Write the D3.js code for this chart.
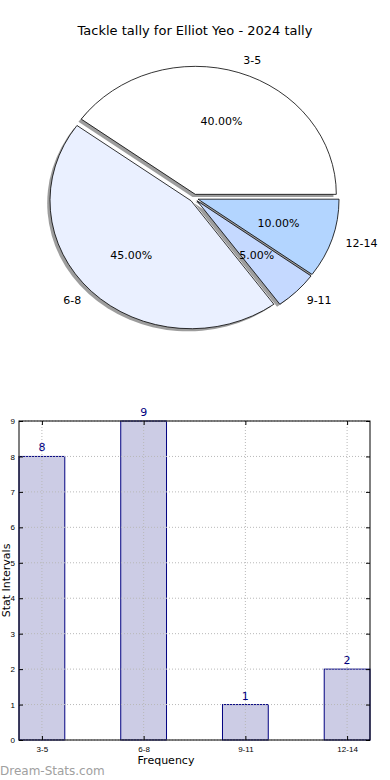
<!DOCTYPE html>
<html>
<head>
<meta charset="utf-8">
<script src="https://cdn.jsdelivr.net/npm/d3@7"></script>
<style>
  body { margin: 0; background: #fff; }
  svg { display: block; font-family: "DejaVu Sans", sans-serif; }
</style>
</head>
<body>
<div id="chart"></div>
<script>
// data
const categories = ['3-5', '6-8', '9-11', '12-14'];
const counts = [8, 9, 1, 2];
const percents = [40, 45, 5, 10];
const sliceColors = ['#ffffff', '#eaf0ff', '#c5d9ff', '#b3d5ff'];
const yTicks = [0, 1, 2, 3, 4, 5, 6, 7, 8, 9];
const title = 'Tackle tally for Elliot Yeo - 2024 tally';

const W = 390, H = 780;
const svg = d3.select('#chart').append('svg')
  .attr('width', W)
  .attr('height', H);

svg.append('text')
  .attr('x', 195)
  .attr('y', 35)
  .attr('text-anchor', 'middle')
  .style('font-size', '13px')
  .text(title);

// Pie (elliptical, like the squashed matplotlib axes)
const cx = 194, cy = 198, rx = 141, ry = 128;
const sx = rx / ry;
const explode = 0.03;

const pie = d3.pie().sort(null)
  .startAngle(Math.PI / 2)
  .endAngle(Math.PI / 2 - 2 * Math.PI);
const arcs = pie(percents);
const arc = d3.arc().innerRadius(0).outerRadius(ry);
const mid = d => (d.startAngle + d.endAngle) / 2;

const pieG = svg.append('g');

// shadows first
arcs.forEach((d, i) => {
  const m = mid(d);
  const ox = explode * ry * Math.sin(m), oy = -explode * ry * Math.cos(m);
  pieG.append('g')
    .attr('transform', `translate(${cx - 2.8},${cy + 2.6}) scale(${sx},1) translate(${ox},${oy})`)
    .append('path')
    .attr('d', arc(d))
    .attr('fill', '#4d4d4d')
    .attr('fill-opacity', 0.55);
});

arcs.forEach((d, i) => {
  const m = mid(d);
  const ox = explode * ry * Math.sin(m), oy = -explode * ry * Math.cos(m);
  pieG.append('g')
    .attr('transform', `translate(${cx},${cy}) scale(${sx},1) translate(${ox},${oy})`)
    .append('path')
    .attr('d', arc(d))
    .attr('fill', sliceColors[i])
    .attr('stroke', '#000')
    .attr('stroke-width', 0.8)
    .attr('vector-effect', 'non-scaling-stroke');
});

// labels
arcs.forEach((d, i) => {
  const m = mid(d);
  const ex = cx + explode * rx * Math.sin(m), ey = cy - explode * ry * Math.cos(m);
  const s = Math.sin(m), c = -Math.cos(m);
  svg.append('text')
    .attr('x', ex + 1.1 * rx * s)
    .attr('y', ey + 1.1 * ry * c)
    .attr('dy', '0.35em')
    .attr('text-anchor', s >= 0 ? 'start' : 'end')
    .style('font-size', '11px')
    .text(categories[i]);
  svg.append('text')
    .attr('x', ex + 0.6 * rx * s)
    .attr('y', ey + 0.6 * ry * c)
    .attr('dy', '0.35em')
    .attr('text-anchor', 'middle')
    .style('font-size', '11px')
    .text(percents[i].toFixed(2) + '%');
});

// Bar chart
const pLeft = 19, pRight = 370, pTop = 421, pBottom = 740;
const barW = 0.45;
const x = d3.scaleLinear()
  .domain([-barW / 2, categories.length - 1 + barW / 2])
  .range([pLeft, pRight]);
const y = d3.scaleLinear().domain([0, 9]).range([pBottom, pTop]);

const g = svg.append('g');

// bars
g.selectAll('.bar')
  .data(counts)
  .enter().append('rect')
  .attr('class', 'bar')
  .attr('x', (d, i) => x(i - barW / 2))
  .attr('width', (d, i) => x(i + barW / 2) - x(i - barW / 2))
  .attr('y', d => y(d))
  .attr('height', d => y(0) - y(d))
  .attr('fill', '#ccccE5')
  .attr('stroke', '#000080')
  .attr('stroke-width', 1);

// grid
g.selectAll('.hgrid')
  .data(yTicks)
  .enter().append('line')
  .attr('x1', pLeft).attr('x2', pRight)
  .attr('y1', d => y(d)).attr('y2', d => y(d))
  .attr('stroke', '#b8b8b8')
  .attr('stroke-width', 1)
  .attr('stroke-dasharray', '1,2');
g.selectAll('.vgrid')
  .data(categories)
  .enter().append('line')
  .attr('x1', (d, i) => x(i)).attr('x2', (d, i) => x(i))
  .attr('y1', pTop).attr('y2', pBottom)
  .attr('stroke', '#b8b8b8')
  .attr('stroke-width', 1)
  .attr('stroke-dasharray', '1,2');

// value labels
g.selectAll('.val')
  .data(counts)
  .enter().append('text')
  .attr('x', (d, i) => x(i))
  .attr('y', d => y(d) - 5)
  .attr('text-anchor', 'middle')
  .attr('fill', '#000080')
  .style('font-size', '11px')
  .text(d => d);

// frame
g.append('rect')
  .attr('x', pLeft).attr('y', pTop)
  .attr('width', pRight - pLeft).attr('height', pBottom - pTop)
  .attr('fill', 'none')
  .attr('stroke', '#000')
  .attr('stroke-width', 1);

// axes
const yAxis = g.append('g')
  .attr('transform', `translate(${pLeft},0)`)
  .call(d3.axisLeft(y).tickValues(yTicks).tickSize(-4).tickPadding(4));
yAxis.select('.domain').remove();
yAxis.selectAll('text').style('font-size', '8px').attr('fill', '#000');

const yAxisR = g.append('g')
  .attr('transform', `translate(${pRight},0)`)
  .call(d3.axisRight(y).tickValues(yTicks).tickSize(-4).tickFormat(''));
yAxisR.select('.domain').remove();

const xAxis = g.append('g')
  .attr('transform', `translate(0,${pBottom})`)
  .call(d3.axisBottom(x).tickValues(d3.range(categories.length))
    .tickFormat(i => categories[i]).tickSize(-4).tickPadding(6));
xAxis.select('.domain').remove();
xAxis.selectAll('text').style('font-size', '8px').attr('fill', '#000');

const xAxisT = g.append('g')
  .attr('transform', `translate(0,${pTop})`)
  .call(d3.axisTop(x).tickValues(d3.range(categories.length)).tickSize(-4).tickFormat(''));
xAxisT.select('.domain').remove();

svg.append('text')
  .attr('x', 166)
  .attr('y', 764)
  .attr('text-anchor', 'middle')
  .style('font-size', '11px')
  .text('Frequency');

svg.append('text')
  .attr('transform', `translate(9.5,${(pTop + pBottom) / 2}) rotate(-90)`)
  .attr('text-anchor', 'middle')
  .style('font-size', '11px')
  .text('Stat Intervals');

svg.append('text')
  .attr('x', 0)
  .attr('y', 775)
  .attr('fill', '#a0a0a0')
  .style('font-size', '12px')
  .text('Dream-Stats.com');
</script>
</body>
</html>
